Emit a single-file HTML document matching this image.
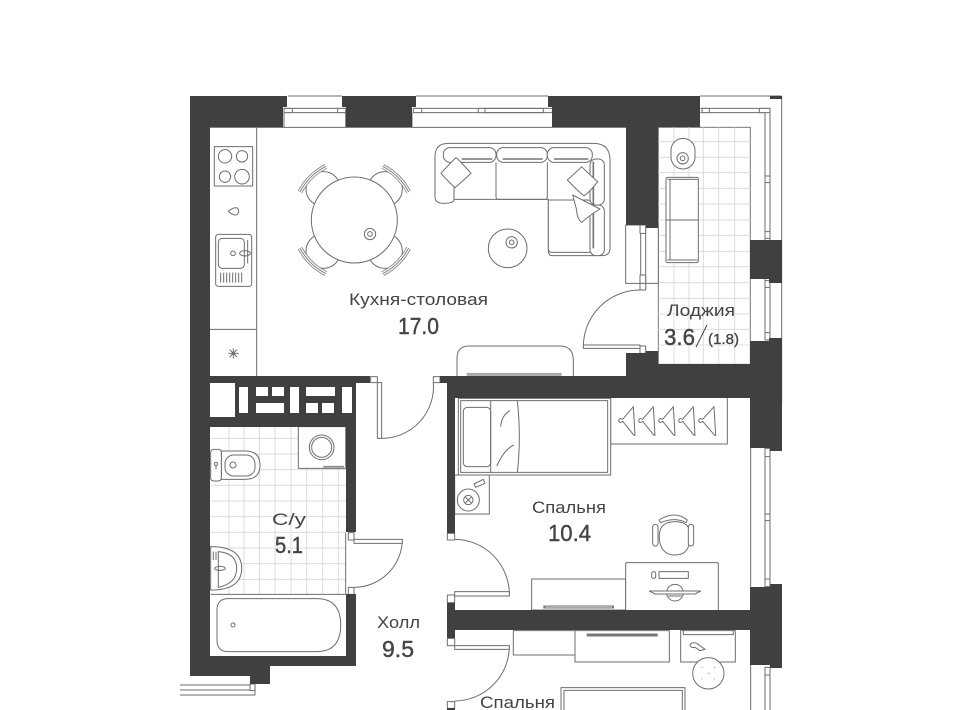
<!DOCTYPE html>
<html lang="ru"><head><meta charset="utf-8"><title>План квартиры</title>
<style>
html,body{margin:0;padding:0;background:#fff}
svg{display:block}
.w{fill:#404040;stroke:none}
.l{fill:none;stroke:#6e6e6e;stroke-width:3;stroke-linejoin:round}
.f{fill:#fff;stroke:#6e6e6e;stroke-width:3;stroke-linejoin:round}
.t{fill:none;stroke:#dcdcdc;stroke-width:3}
text{font-family:"Liberation Sans",sans-serif;fill:#444;font-size:17px}
.n{font-size:23px;stroke:#444;stroke-width:.4px}
</style></head><body>
<svg width="960" height="710" viewBox="0 0 960 710" xmlns="http://www.w3.org/2000/svg">

<!-- Kitchen / top (zoom 1) -->
<g transform="translate(180,90) scale(.33333)">
<path class="l" d="M90,112H1340M230,112V858M90,718H230"/>
<path class="l" d="M323,18H486M312,55H497M312,68H497M708,18H1100M700,55H1100M700,68H1100"/>
<rect class="f" x="312" y="55" width="25" height="13"/><rect class="f" x="473" y="55" width="24" height="13"/><rect class="f" x="700" y="55" width="25" height="13"/>
<path class="l" d="M312,68V112M497,68V112M696,68V112"/>
<rect class="f" x="103" y="170" width="115" height="118"/>
<circle class="l" cx="135" cy="199" r="20"/><circle class="l" cx="186" cy="199" r="17"/><circle class="l" cx="135" cy="260" r="17"/><circle class="l" cx="186" cy="260" r="22"/>
<path class="l" d="M145,364Q160,350 172,354Q180,364 172,374Q160,378 145,364Z"/>
<rect class="l" x="107" y="433" width="108" height="156" rx="8"/><rect class="l" x="115" y="445" width="78" height="90" rx="12"/>
<circle class="l" cx="159" cy="490" r="7"/><ellipse class="l" cx="195" cy="490" rx="16" ry="8"/>
<path class="l" d="M203,450V520M122,548V578M131,548V578M140,548V578M149,548V578M158,548V578M167,548V578M176,548V578M185,548V578"/>
<path class="l" d="M145,790H176M160,775V805M149,779L171,801M171,779L149,801"/>
<circle class="f" cx="430" cy="297" r="52"/><circle class="f" cx="615" cy="297" r="52"/><circle class="f" cx="430" cy="483" r="52"/><circle class="f" cx="615" cy="483" r="52"/>
<circle class="f" cx="523" cy="390" r="129"/>
<circle class="l" cx="570" cy="432" r="17"/><circle class="l" cx="570" cy="432" r="7"/>
<g fill="none" stroke="#808080">
<path stroke-width="15" d="M360,306A181,181 0 0 1 438,229M608,229A181,181 0 0 1 686,306M360,474A181,181 0 0 0 438,551M608,551A181,181 0 0 0 686,474"/>
<path stroke="#fff" stroke-width="10" d="M360,306A181,181 0 0 1 438,229M608,229A181,181 0 0 1 686,306M360,474A181,181 0 0 0 438,551M608,551A181,181 0 0 0 686,474"/>
<path stroke-width="3" d="M360,306A181,181 0 0 1 438,229M608,229A181,181 0 0 1 686,306M360,474A181,181 0 0 0 438,551M608,551A181,181 0 0 0 686,474"/>
</g>
</g>

<!-- Sofa -->
<g transform="translate(430,135) scale(.33333)">
<path class="f" d="M15,65Q15,25 55,25H490Q540,25 540,75V340Q540,362 515,362H365Q355,362 355,345V193H72Q72,205 40,205Q15,205 15,185Z"/>
<rect class="f" x="40" y="38" width="158" height="44" rx="20"/>
<rect class="f" x="200" y="38" width="152" height="44" rx="20"/>
<rect class="f" x="352" y="38" width="135" height="44" rx="20"/>
<path d="M95,72H187M218,72H338M372,72H475" stroke="#888" stroke-width="5" fill="none"/>
<path class="l" d="M72,82V193M198,82V186Q198,193 205,193H345Q352,193 352,186V82"/>
<path class="f" d="M355,195H470Q490,195 490,215V352H365Q355,352 355,340Z"/>
<rect class="f" x="480" y="72" width="43" height="138" rx="18"/>
<rect class="f" x="480" y="210" width="43" height="152" rx="18"/>
<path d="M490,80V340" stroke="#777" stroke-width="5" fill="none"/>
<path class="f" d="M78,68Q85,72 123,115Q90,145 75,158Q55,140 33,115Q60,85 78,68Z"/>
<path class="f" d="M428,180L510,222Q480,240 455,262Q440,250 440,225Z"/>
<path class="f" d="M455,95Q480,120 503,140Q480,170 462,183Q435,160 412,135Q435,115 455,95Z"/>
<circle class="f" cx="233" cy="340" r="58"/><circle class="l" cx="245" cy="322" r="17"/><circle class="l" cx="245" cy="322" r="7"/>
</g>

<!-- Loggia floor etc (zoom 2) -->
<g transform="translate(480,90) scale(.33333)">
<rect x="535" y="112" width="276" height="711" fill="#fff" stroke="#777" stroke-width="3"/>
<path class="t" d="M582,112V822M627,112V822M670,112V822M716,112V822M764,112V822
M535,155H811M535,202H811M535,248H811M535,295H811M535,342H811M535,390H811M535,436H811M535,484H811M535,530H811M535,578H811M535,625H811M535,672H811M535,718H811M535,765H811"/>
<!-- kitchen/loggia block window -->
<rect class="f" x="437" y="405" width="98" height="175"/>
<path class="l" d="M482,405V600M497,405V600"/>
<rect class="f" x="480" y="405" width="17" height="25"/><rect class="f" x="480" y="555" width="17" height="25"/><rect class="f" x="480" y="580" width="17" height="20"/>
<!-- door -->
<path class="l" d="M310,770A170,170 0 0 1 480,600"/>
<rect class="f" x="310" y="765" width="170" height="10"/><rect class="f" x="480" y="768" width="17" height="22"/>
<!-- console -->
<path class="f" d="M-69,858V805Q-69,768 -32,768H240Q280,768 280,812V858"/>
<path d="M-40,853H245" stroke="#aaa" stroke-width="9"/>
<!-- table & seat in loggia -->
<rect class="f" x="573" y="145" width="72" height="92" rx="36"/>
<circle class="l" cx="608" cy="205" r="17"/><circle class="l" cx="608" cy="205" r="7"/>
<rect class="f" x="558" y="262" width="97" height="256" rx="5"/>
<path class="l" d="M570,270V510M558,390H655M562,268H652M562,510H652"/>
<!-- top glazing -->
<path class="l" d="M661,18H905M661,55H870M661,68H855M855,55V750M870,55V750M905,18V940"/>
<rect class="f" x="666" y="55" width="22" height="13"/><rect class="f" x="838" y="55" width="32" height="13"/>
<rect class="f" x="855" y="258" width="15" height="20"/><rect class="f" x="855" y="425" width="15" height="20"/><rect class="f" x="855" y="572" width="15" height="20"/><rect class="f" x="855" y="728" width="15" height="22"/>
<rect class="f" x="-5" y="55" width="20" height="13"/><rect class="f" x="190" y="55" width="27" height="13"/>
<path class="l" d="M15,18H205M15,55H190M15,68H190"/>
</g>

<!-- Bathroom, hall (zoom 3) -->
<g transform="translate(180,370) scale(.33333)">
<rect x="92" y="170" width="405" height="503" fill="#fff"/>
<path class="t" d="M147,170V673M192,170V673M238,170V673M285,170V673M333,170V673M380,170V673M428,170V673M475,170V673
M92,205H497M92,252H497M92,299H497M92,346H497M92,393H497M92,440H497M92,487H497M92,534H497M92,581H497M92,628H497"/>
<path class="l" d="M92,673H497M497,488V673"/>
<rect class="f" x="355" y="170" width="142" height="125"/>
<circle class="l" cx="425" cy="232" r="37"/><circle class="l" cx="425" cy="232" r="30"/>
<path d="M430,290H492" stroke="#888" stroke-width="5"/>
<path class="f" d="M124,243H195Q240,243 240,285Q240,328 195,328H124Z"/>
<rect class="f" x="135" y="255" width="90" height="63" rx="26"/><circle class="l" cx="159" cy="285" r="9"/>
<rect class="f" x="92" y="238" width="32" height="95" rx="9"/><circle class="l" cx="108" cy="282" r="5"/><path class="l" d="M108,288V298"/>
<path class="f" d="M92,530Q185,530 185,595Q185,660 92,660Z"/><path class="l" d="M115,545Q170,550 170,595Q170,640 115,652ZM100,545V570M108,545V570"/>
<ellipse class="l" cx="120" cy="595" rx="16" ry="6"/>
<path class="f" d="M111,720Q111,686 145,686H410Q482,686 482,765Q482,845 410,845H145Q111,845 111,810Z"/><circle class="l" cx="159" cy="765" r="6"/>
<!-- bathroom door -->
<path class="l" d="M667,510A145,145 0 0 1 522,652"/>
<rect class="f" x="522" y="508" width="145" height="12"/><rect class="f" x="505" y="488" width="17" height="22"/><rect class="f" x="505" y="652" width="17" height="21"/>
<!-- entrance door -->
<path class="l" d="M605,205A155,155 0 0 0 760,38"/>
<rect class="f" x="592" y="38" width="13" height="167"/><rect class="f" x="572" y="20" width="20" height="18"/><rect class="f" x="760" y="20" width="20" height="18"/>
<!-- bottom-left glazing -->
<path class="l" d="M0,945H210M0,960H210M0,975H225V962"/><rect class="f" x="210" y="942" width="15" height="20"/>
</g>

<!-- Bedrooms (zoom 4) -->
<g transform="translate(440,380) scale(.33333)">
<rect class="f" x="512" y="52" width="350" height="140"/>
<rect class="f" x="55" y="55" width="457" height="230"/><rect class="l" x="62" y="62" width="441" height="215"/>
<rect class="l" x="70" y="82" width="82" height="178" rx="12"/>
<path class="l" d="M152,62V277M232,62Q244,170 232,277M182,140Q185,105 210,92M170,258Q195,205 222,195"/>
<path class="l" d="M580,80L548,118Q538,112 536,122Q538,132 548,124L582,166H585L580,80Z"/>
<path class="l" d="M640,80L608,118Q598,112 596,122Q598,132 608,124L642,166H645L640,80Z"/>
<path class="l" d="M700,80L668,118Q658,112 656,122Q658,132 668,124L702,166H705L700,80Z"/>
<path class="l" d="M760,80L728,118Q718,112 716,122Q718,132 728,124L762,166H765L760,80Z"/>
<path class="l" d="M822,80L788,118Q778,112 776,122Q778,132 788,124L824,166H827L822,80Z"/>
<rect class="f" x="44" y="285" width="104" height="117"/>
<circle class="l" cx="85" cy="360" r="33"/><circle class="l" cx="85" cy="360" r="14"/><path class="l" d="M76,351L94,369M94,351L76,369"/>
<path class="f" d="M102,312L130,298L135,310L107,322Z"/>
<!-- chair -->
<path class="f" d="M660,490Q648,425 705,425Q762,425 748,490Q742,525 705,525Q670,525 660,490Z"/>
<path class="f" d="M657,420Q705,390 742,420L738,428Q705,410 662,428Z"/>
<rect class="f" x="638" y="433" width="16" height="65" rx="8"/><rect class="f" x="745" y="433" width="16" height="65" rx="8"/>
<!-- desks -->
<rect class="f" x="275" y="597" width="282" height="93"/>
<path d="M310,681H522" stroke="#777" stroke-width="9"/>
<path d="M316,681H516" stroke="#ddd" stroke-width="3"/>
<path d="M557,690V552Q557,548 561,548H831Q835,548 835,552V690" class="f"/>
<rect class="l" x="657" y="575" width="88" height="20"/><rect class="l" x="635" y="575" width="12" height="20" rx="5"/>
<circle class="l" cx="705" cy="638" r="25"/><path class="f" d="M628,633H782L765,642H645Z"/><path class="l" d="M685,648H725"/>
<rect class="f" x="220" y="752" width="185" height="73"/>
<rect class="f" x="405" y="752" width="283" height="94"/>
<path d="M440,765H653" stroke="#777" stroke-width="9"/>
<rect class="f" x="722" y="752" width="164" height="94"/><path class="l" d="M730,752V764H880V752"/>
<path class="l" d="M750,795Q755,785 770,790L795,808L780,812L765,802Q752,805 750,795Z"/>
<circle class="f" cx="805" cy="880" r="47"/>
<path d="M785,862h2M822,862h2M805,880h3M785,897h2M822,897h2" stroke="#666" stroke-width="3"/>
<rect class="f" x="363" y="923" width="372" height="80"/><rect class="l" x="372" y="931" width="355" height="80"/>
<!-- doors -->
<path class="l" d="M44,478A165,165 0 0 1 208,645"/>
<rect class="f" x="44" y="635" width="164" height="13"/><rect class="f" x="22" y="460" width="22" height="20"/><rect class="f" x="22" y="645" width="22" height="23"/>
<path class="l" d="M208,800A165,165 0 0 1 44,963"/>
<rect class="f" x="44" y="797" width="164" height="11"/><rect class="f" x="22" y="775" width="22" height="22"/><rect class="f" x="22" y="965" width="22" height="20"/>
<!-- window right -->
<path class="l" d="M932,192V620M932,855V990M975,205V620M990,205V620M975,862V990M990,862V990"/>
<rect class="f" x="975" y="205" width="15" height="25"/><rect class="f" x="975" y="402" width="15" height="20"/><rect class="f" x="975" y="597" width="15" height="23"/><rect class="f" x="975" y="862" width="15" height="23"/>
</g>

<!-- Walls -->
<path class="w" d="M190,96H287V107H283V127H210V376H370V383H356V532H346V427H210V656H346V594H356V666H270V684H250V676H190Z"/>
<path class="w" fill-rule="evenodd" d="M210,383H356V427H210Z"/>
<rect x="210" y="383" width="25" height="34" fill="#fff"/>
<g fill="#fff">
<rect x="239" y="387" width="9" height="26"/><rect x="256" y="387" width="12" height="9"/><rect x="272" y="387" width="12" height="9"/><rect x="256" y="403" width="28" height="10"/>
<rect x="290" y="387" width="9" height="26"/><rect x="306" y="387" width="29" height="9"/><rect x="306" y="403" width="12" height="10"/><rect x="322" y="403" width="12" height="10"/><rect x="342" y="387" width="10" height="26"/>
</g>
<path class="w" d="M342,96H416V107H412V127H346V107H342Z"/>
<path class="w" d="M548,96H700V127H658V228L646,228 646,225H626V127H552V107H548Z"/>
<path class="w" d="M440,376H626V353H646V351H658V364H750V341H769V338H782V451H770V448H750V398H455V533H447V383H440Z"/>
<path class="w" d="M750,240H782V283H769V279H750Z"/>
<path class="w" d="M750,587H770V584H782V668H770V665H750V630H455V638H447V603H455V610H750Z"/>
<rect class="w" x="770" y="96" width="12" height="3"/>
<rect class="w" x="447" y="708" width="8" height="2"/>

<!-- Labels -->
<text x="349" y="305" textLength="139" lengthAdjust="spacingAndGlyphs">Кухня-столовая</text>
<text class="n" x="398" y="334" textLength="41" lengthAdjust="spacingAndGlyphs">17.0</text>
<text x="667" y="316" textLength="68" lengthAdjust="spacingAndGlyphs">Лоджия</text>
<text class="n" x="664" y="345" textLength="31" lengthAdjust="spacingAndGlyphs">3.6</text>
<path d="M696,347L707,325" stroke="#444" stroke-width="1" fill="none"/>
<text x="708" y="344" textLength="31" lengthAdjust="spacingAndGlyphs" style="font-size:15px;stroke:#444;stroke-width:.3px">(1.8)</text>
<text x="272" y="525" textLength="34" lengthAdjust="spacingAndGlyphs">С/у</text>
<text class="n" x="275" y="553" textLength="28" lengthAdjust="spacingAndGlyphs">5.1</text>
<text x="377" y="628" textLength="43" lengthAdjust="spacingAndGlyphs">Холл</text>
<text class="n" x="382" y="657" textLength="32" lengthAdjust="spacingAndGlyphs">9.5</text>
<text x="532" y="513" textLength="74" lengthAdjust="spacingAndGlyphs">Спальня</text>
<text class="n" x="548" y="541" textLength="43" lengthAdjust="spacingAndGlyphs">10.4</text>
<text x="480" y="708" textLength="75" lengthAdjust="spacingAndGlyphs">Спальня</text>
</svg>
</body></html>
